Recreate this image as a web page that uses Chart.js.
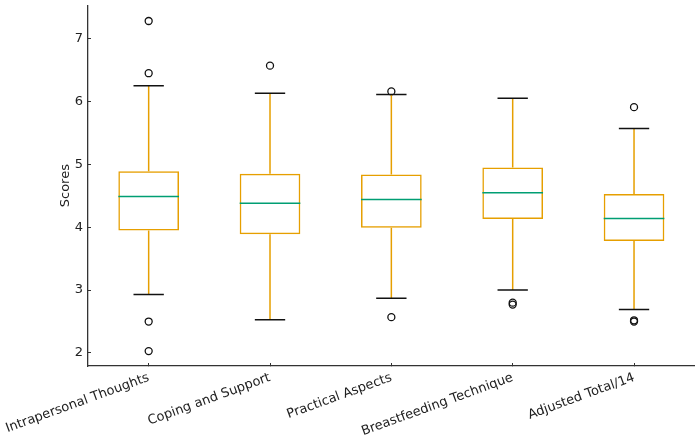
<!DOCTYPE html>
<html>
<head>
<meta charset="utf-8">
<script src="https://cdn.jsdelivr.net/npm/chart.js@4"></script>
<style>
html,body{margin:0;padding:0;background:#fff;}
#wrap{width:700px;height:439px;position:relative;}
</style>
</head>
<body>
<div id="wrap"><canvas id="c" width="700" height="439"></canvas></div>
<script>
const categories = ["Intrapersonal Thoughts","Coping and Support","Practical Aspects","Breastfeeding Technique","Adjusted Total/14"];
const q1 = [3.95, 3.89, 3.99, 4.13, 3.78];
const medians = [4.49, 4.38, 4.44, 4.55, 4.14];
const q3 = [4.89, 4.85, 4.84, 4.95, 4.53];
const whiskerLow = [2.93, 2.53, 2.87, 3.00, 2.69];
const whiskerHigh = [6.25, 6.13, 6.11, 6.05, 5.57];
const outliers = [
  [7.28, 6.45, 2.50, 2.03],
  [6.57],
  [6.16, 2.57],
  [2.77, 2.80],
  [5.91, 2.52, 2.50]
];
const yTicks = [2, 3, 4, 5, 6, 7];

const ORANGE = '#E69F00';
const GREEN = '#009E73';
const FONT = "'DejaVu Sans', sans-serif";

const outlierPoints = [];
outliers.forEach((arr, i) => arr.forEach(v => outlierPoints.push({x: categories[i], y: v})));

const boxPlugin = {
  id: 'boxParts',
  afterDatasetsDraw(chart) {
    const ctx = chart.ctx;
    const xs = chart.scales.x, ys = chart.scales.y;
    const meta = chart.getDatasetMeta(0);
    ctx.save();
    categories.forEach((c, i) => {
      const bar = meta.data[i];
      const cx = xs.getPixelForValue(i);
      const half = bar.width / 2;
      const capHalf = half / 2;
      const yLo = ys.getPixelForValue(whiskerLow[i]);
      const yHi = ys.getPixelForValue(whiskerHigh[i]);
      const yQ1 = ys.getPixelForValue(q1[i]);
      const yQ3 = ys.getPixelForValue(q3[i]);
      const yMed = ys.getPixelForValue(medians[i]);
      ctx.lineWidth = 1.5;
      ctx.strokeStyle = ORANGE;
      ctx.beginPath();
      ctx.moveTo(cx, yQ1); ctx.lineTo(cx, yLo);
      ctx.moveTo(cx, yQ3); ctx.lineTo(cx, yHi);
      ctx.stroke();
      ctx.strokeStyle = '#111';
      ctx.beginPath();
      ctx.moveTo(cx - capHalf, yLo); ctx.lineTo(cx + capHalf, yLo);
      ctx.moveTo(cx - capHalf, yHi); ctx.lineTo(cx + capHalf, yHi);
      ctx.stroke();
      ctx.strokeStyle = GREEN;
      ctx.beginPath();
      ctx.moveTo(cx - half, yMed); ctx.lineTo(cx + half, yMed);
      ctx.stroke();
    });
    ctx.restore();
  }
};

new Chart(document.getElementById('c'), {
  type: 'bar',
  data: {
    labels: categories,
    datasets: [
      {
        type: 'bar',
        data: categories.map((c, i) => [q1[i], q3[i]]),
        backgroundColor: 'rgba(0,0,0,0)',
        borderColor: ORANGE,
        borderWidth: 1.5,
        borderSkipped: false,
        barPercentage: 0.5,
        categoryPercentage: 1.0,
        order: 2
      },
      {
        type: 'line',
        data: outlierPoints,
        showLine: false,
        pointStyle: 'circle',
        pointRadius: 3.5,
        pointBorderWidth: 1.3,
        pointBorderColor: '#111',
        pointBackgroundColor: 'rgba(0,0,0,0)',
        order: 1
      }
    ]
  },
  options: {
    responsive: false,
    animation: false,
    devicePixelRatio: 1,
    layout: {padding: {top: 0, right: 3, left: 0, bottom: 0}},
    plugins: {legend: {display: false}, tooltip: {enabled: false}},
    scales: {
      x: {
        type: 'category',
        offset: true,
        border: {display: true, color: '#333', width: 1.3},
        grid: {display: true, offset: false, drawOnChartArea: false, drawTicks: true, tickLength: -3, color: '#333', tickWidth: 1},
        ticks: {
          color: '#222', font: {family: FONT, size: 13},
          minRotation: 20, maxRotation: 20, autoSkip: false, padding: 7
        },
        afterFit(s) { s.height = 73; s.paddingLeft = 0; s.paddingRight = 0; }
      },
      y: {
        min: 1.793, max: 7.53,
        border: {display: true, color: '#333', width: 1.3},
        grid: {display: true, drawOnChartArea: false, drawTicks: true, tickLength: -3, color: '#333', tickWidth: 1},
        afterBuildTicks(s) { s.ticks = yTicks.map(v => ({value: v})); },
        ticks: {
          color: '#222', font: {family: FONT, size: 13}, padding: 8,
          includeBounds: false
        },
        title: {display: true, text: 'Scores', color: '#222', font: {family: FONT, size: 13}, padding: {top: 58, bottom: 0}},
        afterFit(s) { s.width = 88; s.paddingTop = 0; s.paddingBottom = 0; }
      }
    }
  },
  plugins: [boxPlugin]
});
</script>
</body>
</html>
